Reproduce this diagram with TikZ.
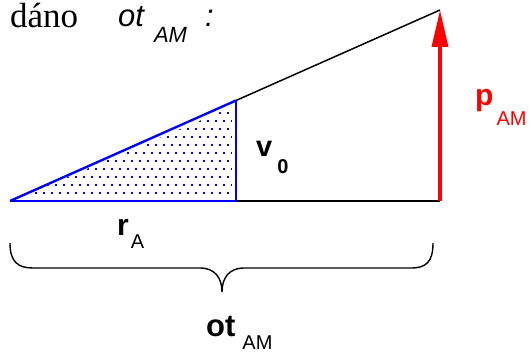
\documentclass[tikz,border=0pt]{standalone}
\usepackage{fontspec}
\setmainfont{Liberation Serif}
\setsansfont{Liberation Sans}
\usetikzlibrary{arrows.meta}
\newcommand{\fs}[1]{\fontsize{#1}{#1}\selectfont}
\tikzset{
  lbl/.style={anchor=base west, inner sep=0pt, font=\sffamily},
  blueline/.style={draw=blue, line width=2.4pt},
  blackline/.style={draw=black, line width=1.5pt},
  vec/.style={draw=red, line width=3.6pt, -{Triangle[length=37pt,width=16pt]}},
  dotmark/.style={draw=blue, line width=1.2pt},
}
\begin{document}
\begin{tikzpicture}[x=1pt,y=-1pt]
\useasboundingbox (0,0) rectangle (529,353);
\coordinate (A) at (10,201);
\coordinate (B) at (236,201);
\coordinate (C) at (236,100.5);
\coordinate (D) at (440,201);
\coordinate (E) at (440,10);
% dotted fill
\begin{scope}
\clip (21,197) -- (232,197) -- (232,107) -- cycle;
\foreach \j in {0,...,11}{
  \pgfmathsetmacro{\yy}{193-8*\j}
  \pgfmathsetmacro{\off}{mod(\j,2)*4}
  \foreach \i in {0,...,28}{
    \pgfmathsetmacro{\xx}{11+\off+8*\i}
    \draw[dotmark] (\xx,\yy) -- ++(2.2,0);
  }
}
\end{scope}
% lines
\draw[blackline] (C) -- (E);
\draw[blackline, line width=2pt] (B) -- (D);
\draw[blueline] (A) -- (C);
\draw[draw=blue, line width=1.8pt] (A) -- (B) -- (C);
\draw[vec] (D) -- (E);
% brace
\coordinate (b1) at (10,243);
\coordinate (b2) at (433,243);
\coordinate (bt) at (222,292);
\draw[line width=1.4pt] (b1) .. controls (10,262) and (18,268) .. (33,268)
  -- (200,268) .. controls (215,268) and (222,278) .. (bt)
  .. controls (222,278) and (229,268) .. (244,268)
  -- (411,268) .. controls (426,268) and (433,262) .. (b2);
% labels
\node[anchor=base west, inner sep=0pt, font=\rmfamily\fs{35}] (dano) at (10,28) {dáno};
\node[lbl] (otop) at (118,27) {\fs{31}\itshape ot\hspace{10pt}\raisebox{-16pt}{\fs{22}AM}\hspace{18pt}:};
\node[lbl] (v0) at (256,156) {\fs{29}\bfseries v\hspace{5pt}\raisebox{-17pt}{\fs{20}0}};
\node[lbl, text=red] (pam) at (475,105) {\fs{30}\bfseries p\hspace{3pt}\raisebox{-20pt}{\fs{20}\mdseries AM}};
\node[lbl] (ra) at (117,235) {\fs{30}\bfseries r\hspace{2pt}\raisebox{-13pt}{\fs{20}\mdseries A}};
\node[lbl] (obot) at (206,336) {\fs{31}\bfseries ot\hspace{7pt}\raisebox{-13pt}{\fs{20}\mdseries AM}};
\end{tikzpicture}
\end{document}
